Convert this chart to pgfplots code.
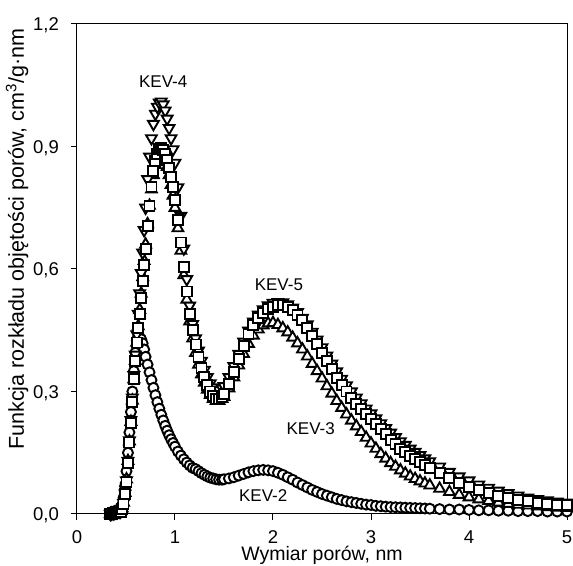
\documentclass[border=0pt]{standalone}
\usepackage{fontspec}
\setmainfont{Liberation Sans}
\usepackage{pgfplots}
\usepackage{pgfplotstable}
\pgfplotsset{compat=1.18}

% x, KEV-2, KEV-3, KEV-4, KEV-5
\pgfplotstableread{
x     k2     k3    k4    k5
0.340 0.000  0.000 0.000 0.000
0.355 0.001  0.001 0.001 0.001
0.370 0.002  0.002 0.002 0.002
0.385 0.003  0.003 0.003 0.003
0.400 0.004  0.004 0.004 0.004
0.415 0.005  0.005 0.005 0.005
0.430 0.007  0.006 0.006 0.006
0.445 0.012  0.007 0.006 0.005
0.460 0.022  0.014 0.013 0.012
0.475 0.040  0.028 0.027 0.025
0.490 0.068  0.052 0.050 0.048
0.505 0.105  0.085 0.082 0.078
0.520 0.150  0.130 0.130 0.125
0.535 0.200  0.178 0.180 0.175
0.550 0.250  0.226 0.230 0.222
0.565 0.300  0.278 0.285 0.275
0.580 0.350  0.330 0.340 0.330
0.595 0.395  0.375 0.390 0.375
0.610 0.425  0.420 0.440 0.420
0.625 0.436  0.460 0.490 0.455
0.640 0.432  0.500 0.540 0.490
0.655 0.428  0.540 0.590 0.530
0.670 0.418  0.580 0.640 0.570
0.685 0.403  0.620 0.695 0.610
0.700 0.385  0.660 0.750 0.650
0.72  0.366  0.710 0.820 0.705
0.74  0.347  0.755 0.875 0.755
0.76  0.328  0.795 0.920 0.800
0.78  0.309  0.830 0.955 0.840
0.80  0.291  0.855 0.980 0.865
0.82  0.274  0.872 0.997 0.882
0.84  0.258  0.882 1.007 0.893
0.86  0.243  0.884 1.010 0.896
0.88  0.229  0.878 1.003 0.892
0.90  0.216  0.866 0.988 0.882
0.92  0.204  0.850 0.968 0.868
0.94  0.193  0.830 0.945 0.848
0.96  0.183  0.806 0.920 0.825
0.98  0.174  0.780 0.893 0.800
1.00  0.165  0.750 0.860 0.770
1.03  0.153  0.700 0.800 0.720
1.06  0.143  0.645 0.730 0.665
1.09  0.134  0.585 0.650 0.605
1.12  0.126  0.525 0.575 0.545
1.15  0.119  0.472 0.510 0.490
1.18  0.113  0.430 0.465 0.450
1.21  0.110  0.395 0.430 0.415
1.24  0.105  0.366 0.400 0.385
1.27  0.100  0.342 0.375 0.358
1.30  0.096  0.322 0.353 0.335
1.33  0.092  0.305 0.335 0.315
1.36  0.089  0.292 0.320 0.300
1.39  0.087  0.282 0.310 0.288
1.42  0.085  0.277 0.304 0.282
1.45  0.084  0.277 0.303 0.281
1.48  0.084  0.282 0.308 0.287
1.50  0.085  0.287 0.313 0.293
1.55  0.087  0.308 0.335 0.318
1.60  0.090  0.335 0.362 0.348
1.65  0.094  0.364 0.392 0.380
1.70  0.098  0.392 0.422 0.412
1.75  0.102  0.417 0.449 0.440
1.80  0.105  0.437 0.471 0.462
1.85  0.107  0.452 0.488 0.479
1.90  0.108  0.462 0.501 0.492
1.95  0.107  0.467 0.511 0.502
2.00  0.105  0.468 0.517 0.508
2.05  0.101  0.463 0.519 0.511
2.10  0.096  0.455 0.518 0.511
2.15  0.090  0.445 0.513 0.507
2.20  0.084  0.432 0.505 0.499
2.25  0.077  0.418 0.494 0.488
2.30  0.071  0.403 0.480 0.474
2.35  0.065  0.386 0.464 0.456
2.40  0.059  0.368 0.446 0.436
2.45  0.054  0.350 0.427 0.416
2.50  0.049  0.332 0.408 0.395
2.55  0.045  0.313 0.388 0.375
2.60  0.041  0.295 0.368 0.354
2.65  0.037  0.277 0.349 0.334
2.70  0.034  0.260 0.331 0.315
2.75  0.031  0.244 0.315 0.300
2.80  0.029  0.229 0.300 0.285
2.85  0.027  0.215 0.285 0.270
2.90  0.025  0.201 0.271 0.257
2.95  0.023  0.187 0.258 0.245
3.00  0.022  0.173 0.246 0.233
3.05  0.020  0.160 0.234 0.220
3.10  0.019  0.147 0.222 0.208
3.15  0.018  0.136 0.210 0.195
3.20  0.017  0.125 0.199 0.182
3.25  0.0165 0.116 0.188 0.171
3.30  0.016  0.107 0.178 0.160
3.35  0.0155 0.099 0.169 0.151
3.40  0.015  0.092 0.160 0.142
3.45  0.0145 0.086 0.152 0.134
3.50  0.014  0.080 0.144 0.127
3.55  0.0135 0.075 0.136 0.120
3.60  0.013  0.070 0.129 0.113
3.70  0.012  0.062 0.116 0.100
3.80  0.011  0.054 0.103 0.088
3.90  0.011  0.047 0.092 0.077
4.00  0.010  0.041 0.082 0.067
4.10  0.009  0.036 0.072 0.058
4.20  0.009  0.032 0.064 0.051
4.30  0.008  0.028 0.057 0.045
4.40  0.008  0.025 0.051 0.040
4.50  0.007  0.023 0.045 0.035
4.60  0.007  0.021 0.040 0.031
4.70  0.007  0.019 0.036 0.028
4.80  0.006  0.017 0.033 0.025
4.90  0.006  0.016 0.030 0.023
5.00  0.006  0.015 0.028 0.021
}\psd

\begin{document}
\begin{tikzpicture}
\begin{axis}[
  scale only axis,
  width=490pt, height=490pt,
  xmin=0, xmax=5, ymin=0, ymax=1.2,
  xtick={0,1,2,3,4,5},
  ytick={0,0.3,0.6,0.9,1.2},
  tick pos=left,
  tick align=outside,
  major tick length=6pt,
  axis line style={line width=1pt},
  every tick/.style={line width=1pt, black},
  /pgf/number format/assume math mode=true,
  tick label style={font=\fontsize{18.5}{20}\selectfont},
  yticklabel style={/pgf/number format/fixed, /pgf/number format/fixed zerofill,
    /pgf/number format/precision=1, /pgf/number format/use comma,
    anchor=base east, inner sep=0pt, xshift=-12pt, yshift=-6.6pt},
  xticklabel style={anchor=base, inner sep=0pt, yshift=-23.5pt},
  xlabel={Wymiar porów, nm},
  ylabel={Funkcja rozkładu objętości porów, cm\textsuperscript{3}/g·nm},
  xlabel style={font=\fontsize{19.5}{21}\selectfont, at={(axis description cs:0.5,0)}, anchor=base, inner sep=0pt, yshift=-47pt},
  ylabel style={font=\fontsize{21.5}{23}\selectfont, at={(axis description cs:-0.122,0.561)}, anchor=center, inner sep=0pt},
  every axis plot/.append style={only marks},
]
\addplot[mark=*, mark size=5pt, mark options={fill=white, draw=black, line width=1.9pt}]
  table[x=x, y=k2] {\psd};
\addplot[mark=triangle*, mark size=6.2pt, mark options={fill=white, draw=black, line width=1.9pt}]
  table[x=x, y=k3] {\psd};
\addplot[mark=triangle*, mark size=6.2pt, mark options={fill=white, draw=black, line width=1.9pt, rotate=180}]
  table[x=x, y=k4] {\psd};
\addplot[mark=square*, mark size=5pt, mark options={fill=white, draw=black, line width=1.9pt}]
  table[x=x, y=k5] {\psd};
\node[font=\fontsize{17}{19}\selectfont] at (axis cs:0.88,1.059) {KEV-4};
\node[font=\fontsize{17}{19}\selectfont] at (axis cs:2.06,0.562) {KEV-5};
\node[font=\fontsize{17}{19}\selectfont] at (axis cs:2.385,0.209) {KEV-3};
\node[font=\fontsize{17}{19}\selectfont] at (axis cs:1.90,0.046) {KEV-2};
\end{axis}
\path ([xshift=-77pt,yshift=-51pt]current axis.south west) rectangle ([xshift=6pt,yshift=24pt]current axis.north east);
\end{tikzpicture}
\end{document}
